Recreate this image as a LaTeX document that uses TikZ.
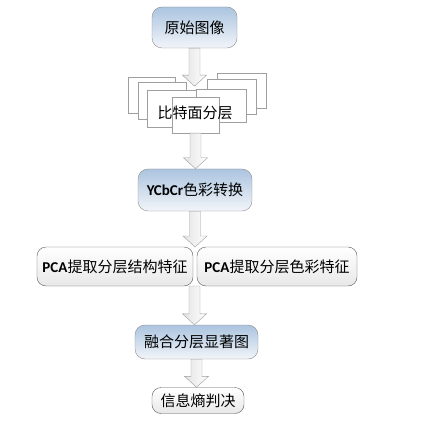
\documentclass[tikz,border=0pt]{standalone}
\usepackage{fontspec}
\setmainfont{Carlito}
\newfontfamily\cjk{Noto Sans CJK SC}
\usetikzlibrary{calc}
\definecolor{boxblue}{HTML}{ABC4DF}
\definecolor{boxpale}{HTML}{F2F5F9}
\definecolor{edgegray}{HTML}{8C8C8C}
\definecolor{arrgray}{HTML}{9C9C9C}

% hollow block arrow from the bottom of #1 down to the top of #2
\newcommand\blockarr[2]{%
  \path let \p1=(#1), \p2=(#2) in [draw=arrgray,left color=gray!22,right color=white]
    (\x1-5.5pt,\y1) -- (\x1-5.5pt,\y2+11pt) -- (\x1-12pt,\y2+11pt) -- (\x1,\y2)
    -- (\x1+12pt,\y2+11pt) -- (\x1+5.5pt,\y2+11pt) -- (\x1+5.5pt,\y1) -- cycle;}

\begin{document}
\begin{tikzpicture}[x=1pt,y=-1pt,every node/.style={font=\fontsize{15}{18}\selectfont},
  bluebox/.style={draw=edgegray,rounded corners=10pt,top color=boxblue,bottom color=boxpale,inner sep=0pt},
  greybox/.style={draw=gray!70!black,rounded corners=9pt,top color=white,bottom color=gray!18,inner sep=0pt},
  layer/.style={draw=gray!75,fill=white}]
\useasboundingbox (0,0) rectangle (426,427);

\node[bluebox,minimum width=85pt,minimum height=41pt] (orig) at (194.5,27.5){\cjk 原始图像};

% stacked bit planes
\foreach \xa/\ya/\xb/\yb in {128/77/175/113,138/82/186/119,147/90/196/127,217/73/266/108,207/79/256/114,196/89/246/122}
  \draw[layer] (\xa,\ya) rectangle (\xb,\yb);
\node[layer,minimum width=47pt,minimum height=36pt,inner sep=0pt] (bit) at (195.5,115){};
\node (bitlabel) at (195,113){\cjk 比特面分层};

\node[bluebox,minimum width=114pt,minimum height=42pt] (ycc) at (195,190){\textbf{YCbCr}\cjk 色彩转换};

\node[greybox,minimum width=156pt,minimum height=39pt] (pcas) at (115,266.5){\textbf{PCA}\cjk 提取分层结构特征};
\node[greybox,minimum width=160pt,minimum height=39pt] (pcac) at (277,266.5){\textbf{PCA}\cjk 提取分层色彩特征};
\coordinate (pcatop) at (195,247);
\coordinate (pcabot) at (194.5,286);

\node[bluebox,minimum width=123pt,minimum height=34pt] (fuse) at (196.5,342){\cjk 融合分层显著图};
\node[greybox,minimum width=92pt,minimum height=26pt] (judge) at (198,400.5){\cjk 信息熵判决};

\blockarr{orig.south}{$(orig.south)+(0,-38pt)$}
\blockarr{bit.south}{ycc.north}
\blockarr{ycc.south}{pcatop}
\blockarr{pcabot}{fuse.north}
\blockarr{fuse.south}{judge.north}
\end{tikzpicture}
\end{document}
